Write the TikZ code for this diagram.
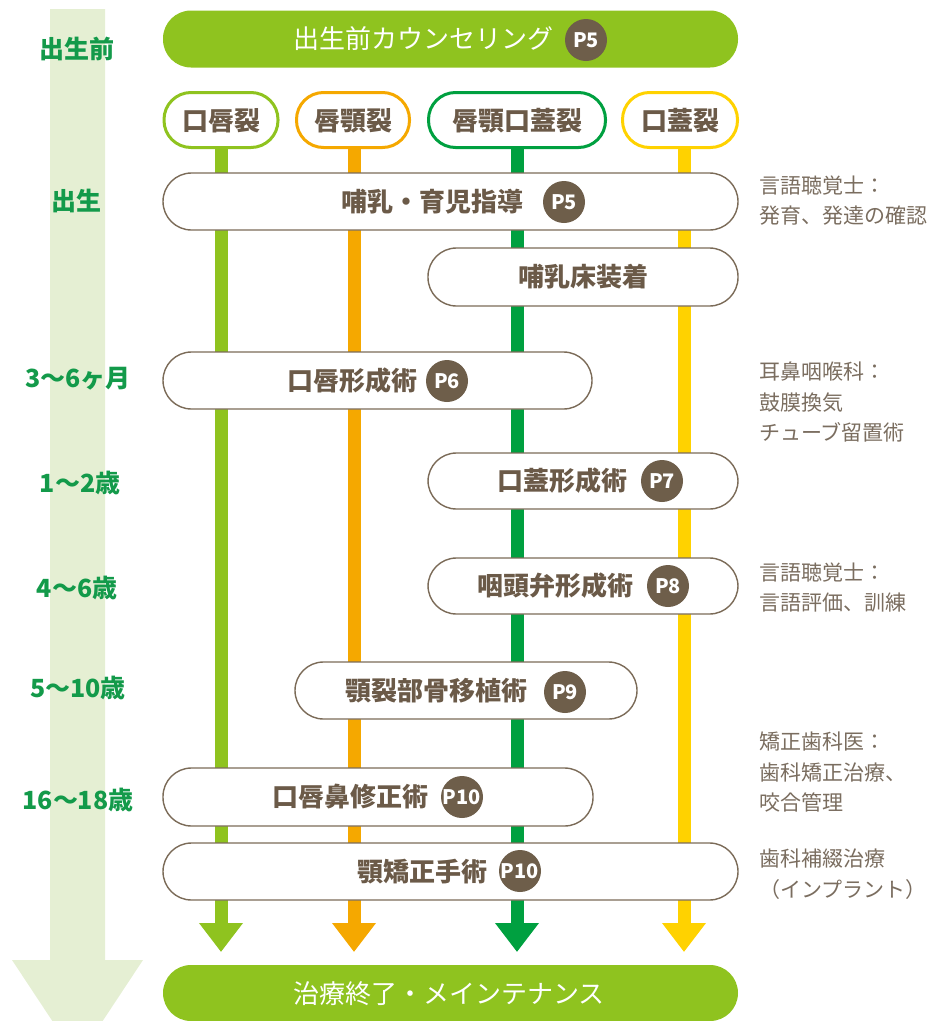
\documentclass[tikz,border=0pt]{standalone}
\usepackage{fontspec}
\setmainfont{Noto Sans CJK JP}
\usetikzlibrary{arrows.meta}
\definecolor{lgreen}{HTML}{8FC31F}
\definecolor{lorange}{HTML}{F5A800}
\definecolor{dgreen}{HTML}{00A040}
\definecolor{lyellow}{HTML}{FFD200}
\definecolor{barcol}{HTML}{E5EFD3}
\definecolor{brownline}{HTML}{7B6B58}
\definecolor{browntext}{HTML}{6B5A48}
\definecolor{badgecol}{HTML}{6E5E4A}
\definecolor{notecol}{HTML}{7A6D5F}
\definecolor{agecol}{HTML}{139A4A}
\begin{document}
\begin{tikzpicture}[x=1pt,y=-1pt,
  greenpill/.style={rectangle,fill=lgreen,rounded corners=28pt,minimum width=575pt,minimum height=57pt,inner sep=0pt},
  whitepill/.style={rectangle,draw=brownline,line width=1.4pt,fill=white,rounded corners=28.5pt,minimum height=57pt,inner sep=0pt},
  typepill/.style={rectangle,draw=#1,line width=3pt,fill=white,rounded corners=27pt,minimum height=55pt,inner sep=0pt},
  pilltext/.style={text=browntext,font=\bfseries\fontsize{26}{30}\selectfont,inner sep=0pt},
  headtext/.style={text=white,font=\fontsize{26}{30}\selectfont,inner sep=0pt},
  badge/.style={circle,fill=badgecol,minimum size=42pt,inner sep=0pt,text=white,font=\bfseries\fontsize{20}{22}\selectfont},
  agestyle/.style={text=agecol,font=\bfseries\fontsize{25}{28}\selectfont,inner sep=0pt},
  notestyle/.style={text=notecol,font=\fontsize{21}{30.5}\selectfont,align=left,anchor=west,inner sep=0pt},
  track/.style={line width=13pt,draw=#1,-{Triangle[width=42pt,length=29pt]}}
]
\useasboundingbox (0,0) rectangle (933,1021);
\clip (0,0) rectangle (933,1021);

% timeline arrow
\fill[barcol] (50,9) -- (105,9) -- (105,960) -- (143,960) -- (77.5,1059) -- (12,960) -- (50,960) -- cycle;

% top counselling pill
\node[greenpill] (top) at (450.5,39) {};
\node[headtext] (topt) at (423,39) {出生前カウンセリング};
\node[badge] (topb) at (586,40) {P5};

% type pills
\node[typepill=lgreen,minimum width=114pt] (t1) at (221,120) {};
\node[typepill=lorange,minimum width=113pt] (t2) at (353,120) {};
\node[typepill=dgreen,minimum width=177pt] (t3) at (517,120) {};
\node[typepill=lyellow,minimum width=115pt] (t4) at (680,120) {};
\node[pilltext] (t1t) at (221,121) {口唇裂};
\node[pilltext] (t2t) at (353,121) {唇顎裂};
\node[pilltext] (t3t) at (517,121) {唇顎口蓋裂};
\node[pilltext] (t4t) at (680,121) {口蓋裂};

% track end points
\coordinate (e1) at (221,952);
\coordinate (e2) at (354,952);
\coordinate (e3) at (517,952);
\coordinate (e4) at (684,952);
\draw[track=lgreen] (t1.south) -- (e1);
\draw[track=lorange] (t2.south -| e2) -- (e2);
\draw[track=dgreen] (t3.south) -- (e3);
\draw[track=lyellow] (t4.south -| e4) -- (e4);

% treatment pills
\node[whitepill,minimum width=575pt] (p1) at (450.5,201.5) {};
\node[pilltext] (p1t) at (432,202) {哺乳・育児指導};
\node[badge] (p1b) at (564,202) {P5};

\node[whitepill,minimum width=310pt,minimum height=58pt] (p2) at (583,277) {};
\node[pilltext] (p2t) at (583,277) {哺乳床装着};

\node[whitepill,minimum width=429pt] (p3) at (377.5,380.5) {};
\node[pilltext] (p3t) at (352,381) {口唇形成術};
\node[badge] (p3b) at (447,381) {P6};

\node[whitepill,minimum width=310pt,minimum height=56pt] (p4) at (583,481) {};
\node[pilltext] (p4t) at (562,481) {口蓋形成術};
\node[badge] (p4b) at (662,481) {P7};

\node[whitepill,minimum width=310pt,minimum height=56pt] (p5) at (583,586) {};
\node[pilltext] (p5t) at (555,586) {咽頭弁形成術};
\node[badge] (p5b) at (668,586) {P8};

\node[whitepill,minimum width=342pt] (p6) at (466,690.5) {};
\node[pilltext] (p6t) at (436,691) {顎裂部骨移植術};
\node[badge] (p6b) at (565,692) {P9};

\node[whitepill,minimum width=430pt,minimum height=58pt] (p7) at (378,797) {};
\node[pilltext] (p7t) at (350,797) {口唇鼻修正術};
\node[badge] (p7b) at (462,797) {P10};

\node[whitepill,minimum width=575pt] (p8) at (450.5,871.5) {};
\node[pilltext] (p8t) at (422,872) {顎矯正手術};
\node[badge] (p8b) at (520,871) {P10};

% bottom pill
\node[greenpill,minimum height=56pt] (bot) at (450.5,993) {};
\node[headtext] (bott) at (449,994) {治療終了・メインテナンス};

% ages
\node[agestyle] (a0) at (77,49) {出生前};
\node[agestyle] (a1) at (76,201) {出生};
\node[agestyle] (a2) at (78,379) {3〜6ヶ月};
\node[agestyle] (a3) at (80,483) {1〜2歳};
\node[agestyle] (a4) at (77,588) {4〜6歳};
\node[agestyle] (a5) at (78,688) {5〜10歳};
\node[agestyle] (a6) at (78,800) {16〜18歳};

% notes
\node[notestyle] (n1) at (759,200.5) {言語聴覚士：\\発育、発達の確認};
\node[notestyle] (n2) at (759,402) {耳鼻咽喉科：\\鼓膜換気\\チューブ留置術};
\node[notestyle] (n3) at (759,587.5) {言語聴覚士：\\言語評価、訓練};
\node[notestyle] (n4) at (759,772.5) {矯正歯科医：\\歯科矯正治療、\\咬合管理};
\node[notestyle] (n5) at (759,874) {歯科補綴治療\\（インプラント）};
\end{tikzpicture}
\end{document}
